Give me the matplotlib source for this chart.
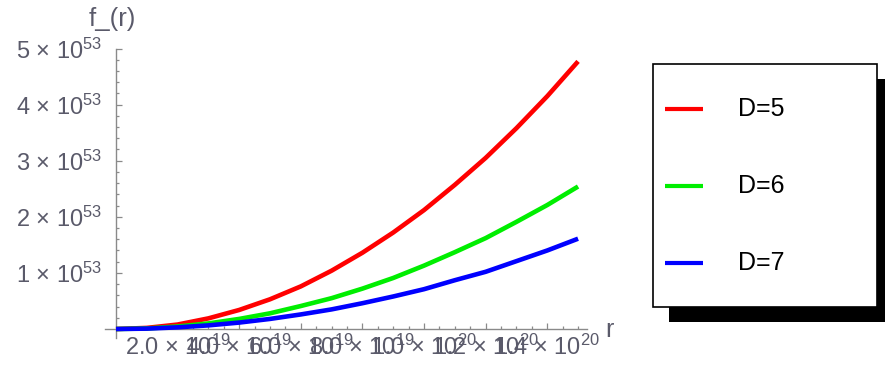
import matplotlib
matplotlib.use("Agg")
from matplotlib import pyplot as plt
from matplotlib import patches
import numpy as np

# r in units of 1e19, f_(r) in units of 1e53
r_vals = [0, 1, 2, 3, 4, 5, 6, 7, 8, 9, 10, 11, 12, 13, 14, 15]
f_d5 = [0, 0.02, 0.08, 0.19, 0.34, 0.53, 0.76, 1.04, 1.36, 1.72, 2.12, 2.57, 3.05, 3.58, 4.15, 4.77]
f_d6 = [0, 0.01, 0.045, 0.10, 0.18, 0.28, 0.41, 0.55, 0.72, 0.91, 1.13, 1.37, 1.62, 1.91, 2.21, 2.54]
f_d7 = [0, 0.007, 0.03, 0.065, 0.115, 0.18, 0.26, 0.35, 0.46, 0.58, 0.71, 0.87, 1.02, 1.21, 1.40, 1.61]

series = [f_d5, f_d6, f_d7]
labels = ["D=5", "D=6", "D=7"]
colors = ["#ff0000", "#00ee00", "#0000ff"]

xticks = [2, 4, 6, 8, 10, 12, 14]
xtick_labels = ["2.0 × 10$^{19}$", "4.0 × 10$^{19}$", "6.0 × 10$^{19}$",
                "8.0 × 10$^{19}$", "1.0 × 10$^{20}$", "1.2 × 10$^{20}$",
                "1.4 × 10$^{20}$"]
yticks = [1, 2, 3, 4, 5]
ytick_labels = ["1 × 10$^{53}$", "2 × 10$^{53}$", "3 × 10$^{53}$",
                "4 × 10$^{53}$", "5 × 10$^{53}$"]

plt.rcParams["font.family"] = ["Liberation Sans", "DejaVu Sans"]
plt.rcParams["mathtext.fontset"] = "custom"
plt.rcParams["mathtext.rm"] = "Liberation Sans"
plt.rcParams["mathtext.it"] = "Liberation Sans"
plt.rcParams["mathtext.bf"] = "Liberation Sans:bold"
plt.rcParams["mathtext.default"] = "regular"

W, H = 885, 378
fig = plt.figure(figsize=(W / 100, H / 100), dpi=100)

# axes box in pixels: x from 105 to 587, y from 48.5 to 338
ax = fig.add_axes([105 / W, (H - 338) / H, (587 - 105) / W, (338 - 48.5) / H])
ax.set_xlim(-0.357, 15.29)
ax.set_ylim(-0.16, 5.0)

for f, c in zip(series, colors):
    ax.plot(r_vals, f, color=c, lw=3.3, solid_capstyle="butt", solid_joinstyle="round",
            zorder=3, clip_on=False)

axis_col = "#8a8a8a"
label_col = "#5a5a6a"
for s in ["top", "right"]:
    ax.spines[s].set_visible(False)
for s in ["left", "bottom"]:
    ax.spines[s].set_position(("data", 0))
    ax.spines[s].set_color(axis_col)
    ax.spines[s].set_linewidth(1.0)

ax.set_xticks(xticks)
ax.set_xticklabels(xtick_labels)
ax.set_xticks(np.arange(0.5, 15.01, 0.5), minor=True)
ax.set_yticks(yticks)
ax.set_yticklabels(ytick_labels)
ax.set_yticks(np.arange(0.2, 5.0, 0.2), minor=True)

ax.tick_params(which="both", direction="in", color=axis_col, width=0.9)
ax.tick_params(which="major", length=4.5)
ax.tick_params(which="minor", length=2.5)
ax.tick_params(axis="x", which="major", labelsize=17, labelcolor=label_col, pad=4)
ax.tick_params(axis="y", which="major", labelsize=17, labelcolor=label_col, pad=10)

# overlay in pixel coordinates for axis names and the legend
ov = fig.add_axes([0, 0, 1, 1], zorder=5)
ov.set_xlim(0, W)
ov.set_ylim(H, 0)
ov.axis("off")

ov.text(112.5, 26, "f_(r)", ha="center", va="baseline", fontsize=18.5, color=label_col)
ov.text(605, 337, "r", ha="left", va="baseline", fontsize=18, color=label_col)

# legend box with hard shadow
ov.add_patch(patches.Rectangle((669, 79), 230, 243, facecolor="black", edgecolor="none"))
ov.add_patch(patches.Rectangle((653, 64), 224, 243, facecolor="white", edgecolor="black", linewidth=1.2))
for i, (lab, c) in enumerate(zip(labels, colors)):
    yy = 109 + i * 77
    ov.plot([665, 703], [yy, yy], color=c, lw=3.0, solid_capstyle="butt")
    ov.text(738, yy, lab, ha="left", va="center", fontsize=18, color="black")

plt.savefig("out.png", dpi=100)
